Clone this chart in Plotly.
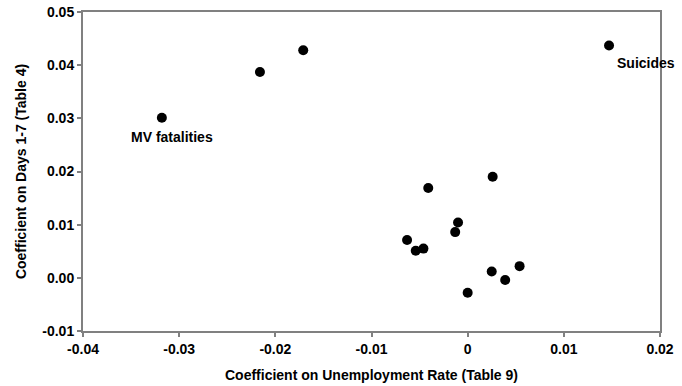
import plotly.graph_objects as go

# Coefficient on unemployment rate (Table 9) vs coefficient on days 1-7 (Table 4)
x_unemp = [-0.0318, -0.0216, -0.0171, 0.0147, -0.0041, 0.0026, -0.0010, -0.0013,
           -0.0063, -0.0054, -0.0046, 0.0000, 0.0025, 0.0039, 0.0054]
y_days = [0.0301, 0.0387, 0.0428, 0.0437, 0.0169, 0.0190, 0.0104, 0.0086,
          0.0071, 0.0051, 0.0055, -0.0028, 0.0012, -0.0004, 0.0022]

x_ticks = [-0.04, -0.03, -0.02, -0.01, 0.0, 0.01, 0.02]
x_ticklabels = ["-0.04", "-0.03", "-0.02", "-0.01", "0", "0.01", "0.02"]
y_ticks = [-0.01, 0.0, 0.01, 0.02, 0.03, 0.04, 0.05]
y_ticklabels = ["-0.01", "0.00", "0.01", "0.02", "0.03", "0.04", "0.05"]

label_text = ["MV fatalities", "Suicides"]
label_x = [-0.0352, 0.0153]
label_y = [0.0265, 0.0405]

FONT = "Liberation Sans, Arial, sans-serif"

fig = go.Figure()
fig.add_trace(go.Scatter(
    x=x_unemp, y=y_days, mode="markers",
    marker=dict(color="black", size=10),
    showlegend=False, hoverinfo="x+y",
))

for t, lx, ly in zip(label_text, label_x, label_y):
    fig.add_annotation(x=lx, y=ly, text=t, showarrow=False,
                       xanchor="left", yanchor="middle",
                       font=dict(family=FONT, size=14, color="black", weight="bold"))

axis_common = dict(
    showgrid=False, zeroline=False, showline=True, mirror=True,
    linecolor="#808080", linewidth=2,
    ticks="outside", ticklen=4, tickwidth=1.5, tickcolor="#808080",
    tickfont=dict(family=FONT, size=14, color="black", weight="bold"),
    automargin=False,
)

fig.update_layout(
    width=682, height=386,
    margin=dict(l=83, r=22, t=12, b=55),
    paper_bgcolor="white", plot_bgcolor="white",
    xaxis=dict(range=[-0.04, 0.02], tickvals=x_ticks, ticktext=x_ticklabels,
               title=dict(text="Coefficient on Unemployment Rate (Table 9)", standoff=14,
                          font=dict(family=FONT, size=14, color="black", weight="bold")),
               **axis_common),
    yaxis=dict(range=[-0.01, 0.05], tickvals=y_ticks, ticktext=y_ticklabels,
               title=dict(text="Coefficient on Days 1-7 (Table 4)", standoff=12,
                          font=dict(family=FONT, size=14, color="black", weight="bold")),
               **axis_common),
)

fig.write_html("out.html")
